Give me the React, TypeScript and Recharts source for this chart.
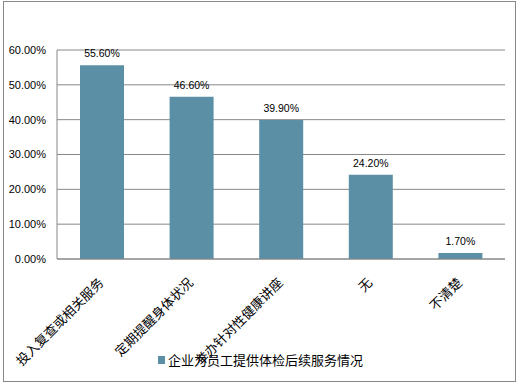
import { Bar, BarChart, CartesianGrid, LabelList, XAxis, YAxis } from 'recharts';

const categories = ['投入复查或相关服务', '定期提醒身体状况', '举办针对性健康讲座', '无', '不清楚'];
const shares = [55.6, 46.6, 39.9, 24.2, 1.7];
const yTicks = [0, 10, 20, 30, 40, 50, 60];
const seriesName = '企业为员工提供体检后续服务情况';

const barColor = '#5b8fa5';
const lineColor = '#888888';

const data = categories.map((name, i) => ({ name, value: shares[i] }));

const fmt = (v: number) => `${Number(v).toFixed(2)}%`;

// rotated category label, right end hangs a little below the tick
const CategoryTick = (props: any) => {
  const { x, y, payload } = props;
  const ax = x - 3;
  const ay = y + 11;
  return (
    <text
      x={ax}
      y={ay}
      transform={`rotate(-45, ${ax}, ${ay})`}
      textAnchor="end"
      dy={8}
      fontSize={13}
      fill="#000"
      fontFamily='"Noto Sans CJK SC", sans-serif'
    >
      {payload.value}
    </text>
  );
};

export default function App() {
  return (
    <div style={{ position: 'absolute', left: 0, top: 0, width: 521, height: 386, background: '#fff' }}>
      <div
        style={{
          position: 'absolute',
          left: 3,
          top: 1,
          width: 513,
          height: 381,
          border: `1px solid ${lineColor}`,
          boxSizing: 'border-box',
        }}
      />
      <BarChart
        width={521}
        height={386}
        data={data}
        margin={{ top: 50, right: 16, left: 0, bottom: 0 }}
        style={{ position: 'absolute', left: 0, top: 0 }}
      >
        <CartesianGrid vertical={false} stroke={lineColor} />
        <XAxis
          dataKey="name"
          height={127}
          interval={0}
          tickLine={false}
          axisLine={{ stroke: lineColor }}
          tick={<CategoryTick />}
        />
        <YAxis
          width={57}
          domain={[0, 60]}
          ticks={yTicks}
          tickFormatter={fmt}
          tickLine={false}
          tickMargin={5}
          axisLine={{ stroke: lineColor }}
          tick={{ fontSize: 11, fill: '#000', fontFamily: '"Liberation Sans", sans-serif' }}
        />
        <Bar dataKey="value" name={seriesName} fill={barColor} barSize={44} isAnimationActive={false}>
          <LabelList
            dataKey="value"
            position="top"
            offset={8}
            formatter={(v: any) => fmt(v)}
            style={{ fontSize: 10.5, fill: '#000', fontFamily: '"Liberation Sans", sans-serif' }}
          />
        </Bar>
      </BarChart>
      <div
        style={{
          position: 'absolute',
          left: 158,
          top: 351,
          display: 'flex',
          alignItems: 'center',
          fontSize: 13,
          fontFamily: '"Noto Sans CJK SC", sans-serif',
          lineHeight: '18px',
          color: '#000',
        }}
      >
        <span style={{ display: 'inline-block', width: 7, height: 8, background: barColor, marginRight: 3 }} />
        <span>{seriesName}</span>
      </div>
    </div>
  );
}
